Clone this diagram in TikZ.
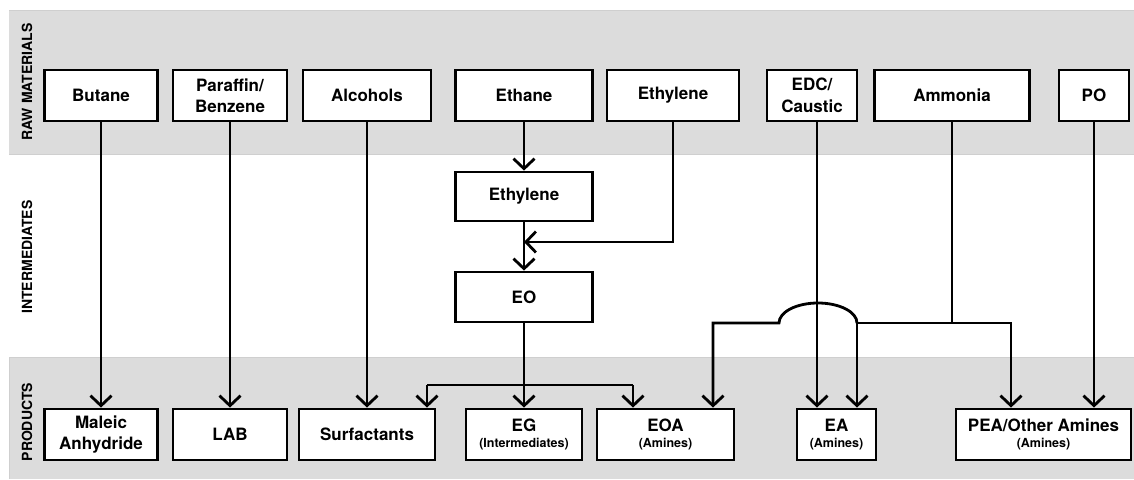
\documentclass[tikz,border=0pt]{standalone}
\usepackage{fontspec}
\setmainfont{TeX Gyre Heros}
\usetikzlibrary{arrows.meta}
\definecolor{band}{HTML}{DCDCDC}
\definecolor{bandedge}{HTML}{CFCFCF}
\newcommand{\subf}{\fontsize{12.5}{14}\selectfont}
\begin{document}
\begin{tikzpicture}[x=1pt,y=-1pt,
  stepbox/.style={draw=black, line width=2.8pt, fill=white, inner sep=0pt,
    align=center, font=\bfseries\fontsize{17}{21.5}\selectfont},
  flow/.style={line width=2.8pt, -{Straight Barb[length=10pt,width=21pt]}},
  plain/.style={line width=2.8pt},
  bandlabel/.style={rotate=90, font=\bfseries\fontsize{14}{14}\selectfont}]
\useasboundingbox (0,0) rectangle (1134,479);
% bands
\fill[band] (9,10) rectangle (1134,155);
\draw[bandedge, line width=1.2pt] (9,10.6) -- (1134,10.6) (9,154.4) -- (1134,154.4);
\fill[band] (9,357) rectangle (1134,479);
\draw[bandedge, line width=1.2pt] (9,357.6) -- (1134,357.6) (9.6,357) -- (9.6,479);
% band labels
\node[bandlabel] (lraw) at (27,82) {RAW MATERIALS};
\node[bandlabel] (lint) at (27,257) {INTERMEDIATES};
\node[bandlabel] (lprod) at (27,422) {PRODUCTS};
% raw materials
\node[stepbox, minimum width=113pt, minimum height=51pt] (butane) at (101,95.5) {Butane};
\node[stepbox, minimum width=114pt, minimum height=51pt] (paraffin) at (230,95.5) {Paraffin/\\Benzene};
\node[stepbox, minimum width=128pt, minimum height=51pt] (alcohols) at (367,95.5) {Alcohols};
\node[stepbox, minimum width=137pt, minimum height=51pt] (ethane) at (524,95.5) {Ethane};
\node[stepbox, minimum width=132pt, minimum height=51pt] (ethyleneraw) at (673,95.5) {Ethylene};
\node[stepbox, minimum width=90pt, minimum height=51pt] (edc) at (812,95.5) {EDC/\\Caustic};
\node[stepbox, minimum width=155pt, minimum height=51pt] (ammonia) at (952,95.5) {Ammonia};
\node[stepbox, minimum width=70pt, minimum height=51pt] (po) at (1094,95.5) {PO};
% intermediates
\node[stepbox, minimum width=137pt, minimum height=49pt] (ethylene) at (524,196.5) {Ethylene};
\node[stepbox, minimum width=137pt, minimum height=50pt] (eo) at (524,297) {EO};
% products
\node[stepbox, minimum width=113pt, minimum height=51pt] (maleic) at (101,434.5) {Maleic\\Anhydride};
\node[stepbox, minimum width=114pt, minimum height=51pt] (lab) at (230,434.5) {LAB};
\node[stepbox, minimum width=136pt, minimum height=51pt] (surf) at (367,434.5) {Surfactants};
\node[stepbox, minimum width=116pt, minimum height=51pt] (eg) at (524,434.5) {EG\\[-6pt]\subf (Intermediates)};
\node[stepbox, minimum width=137pt, minimum height=51pt] (eoa) at (665.5,434.5) {EOA\\[-6pt]\subf (Amines)};
\node[stepbox, minimum width=79pt, minimum height=51pt] (ea) at (836.5,434.5) {EA\\[-6pt]\subf (Amines)};
\node[stepbox, minimum width=175pt, minimum height=51pt] (pea) at (1043.5,434.5) {PEA/Other Amines\\[-6pt]\subf (Amines)};
% coordinates
\coordinate (ej) at (673,242);
\coordinate (sl) at (427,385);
\coordinate (sr) at (633,385);
\coordinate (aj) at (952,323);
\coordinate (ajl) at (857,323);
\coordinate (ajr) at (1011,323);
\coordinate (ajll) at (713,323);
% connectors
\draw[flow] (butane) -- (butane.south |- maleic.north);
\draw[flow] (paraffin) -- (paraffin.south |- lab.north);
\draw[flow] (alcohols) -- (alcohols.south |- surf.north);
\draw[flow] (ethane) -- (ethylene);
\draw[flow] (ethylene) -- (eo);
\draw[flow] (ethyleneraw.south) -- (ej) -- (ej -| ethylene.south);
\draw[flow] (eo.south) -- (eo.south |- eg.north);
\draw[plain] (sl) -- (sr);
\draw[flow] (sl) -- (sl |- surf.north);
\draw[flow] (sr) -- (sr |- eoa.north);
\draw[flow] (817,0 |- edc.south) -- (817,0 |- ea.north);
\draw[plain] (ammonia.south) -- (aj);
\draw[flow] (aj) -- (ajr) -- (ajr |- pea.north);
\draw[flow] (aj) -- (ajl) -- (ajl |- ea.north);
\draw[flow] (ajl) arc[start angle=0, end angle=180, x radius=39pt, y radius=20pt] -- (ajll) -- (ajll |- eoa.north);
\draw[flow] (po) -- (po.south |- pea.north);
\end{tikzpicture}
\end{document}
